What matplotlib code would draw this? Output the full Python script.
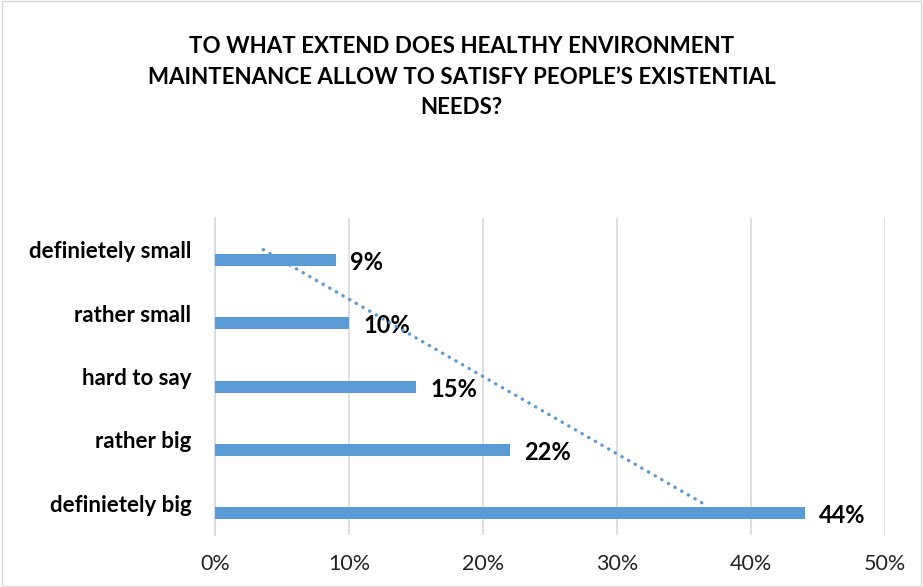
import numpy as np
import matplotlib
matplotlib.use("Agg")
import matplotlib.pyplot as plt
from matplotlib.patches import Rectangle

categories = ["definietely small", "rather small", "hard to say", "rather big", "definietely big"]
values = [9, 10, 15, 22, 44]
xticks = [0, 10, 20, 30, 40, 50]
xtick_labels = ["0%", "10%", "20%", "30%", "40%", "50%"]
title = "TO WHAT EXTEND DOES HEALTHY ENVIRONMENT\nMAINTENANCE ALLOW TO SATISFY PEOPLE\u2019S EXISTENTIAL\nNEEDS?"

plt.rcParams['font.family'] = ['Lato', 'DejaVu Sans']
color = "#5b9bd5"

fig = plt.figure(figsize=(9.23, 5.87), dpi=100)
ax = fig.add_axes([215/923, (587-535)/587, (885-215)/923, (535-218)/587])

n = len(categories)
pos = np.arange(n)
ax.barh(pos + 0.16, values, height=0.19, color=color, zorder=3)

for p, v in zip(pos, values):
    ax.text(v + 1.1, p + 0.2, f"{v}%", va="center", ha="left",
            fontsize=17, fontweight="bold", color="#000000", zorder=4)

# linear trendline (Excel order: bottom category = 1)
ex = np.arange(1, n + 1)
ev = np.array(values[::-1], dtype=float)
slope, intercept = np.polyfit(ex, ev, 1)
trend_top = slope * n + intercept
trend_bottom = slope * 1 + intercept
ax.plot([trend_top, trend_bottom], [0, n - 1], linestyle=(0, (0.1, 2.2)),
        dash_capstyle="round", color=color, linewidth=2.4, zorder=5)

ax.set_xlim(0, 50)
ax.set_ylim(n - 0.5, -0.5)
ax.set_xticks(xticks)
ax.set_xticklabels(xtick_labels, fontsize=15.5, color="#222222")
ax.set_yticks(pos)
ax.set_yticklabels(categories, fontsize=16, fontweight="bold", color="#000000")
ax.tick_params(axis="both", length=0)
ax.tick_params(axis="y", pad=17)
ax.tick_params(axis="x", pad=14)
ax.xaxis.grid(True, color="#d9d9d9", linewidth=1.2, zorder=0)
for s in ["top", "right", "bottom"]:
    ax.spines[s].set_visible(False)
ax.spines["left"].set_color("#d9d9d9")
ax.spines["left"].set_linewidth(1.2)

fig.text(0.5, 1 - 77/587, title, ha="center", va="center", fontsize=16.1,
         fontweight="bold", linespacing=1.55)

fig.patches.append(Rectangle((0.002, 0.002), 0.996, 0.996, transform=fig.transFigure,
                             fill=False, edgecolor="#d9d9d9", linewidth=1))

fig.savefig("out.png", dpi=100)
